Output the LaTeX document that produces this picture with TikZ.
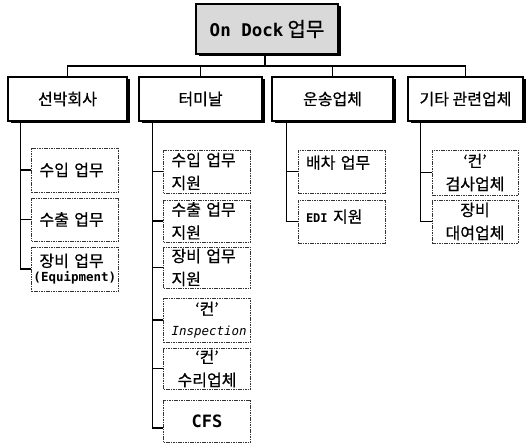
\documentclass[tikz,border=0pt]{standalone}
\usepackage{fontspec}
\setmainfont{Noto Sans CJK KR}[FakeBold=0.6]
\newfontfamily\mono{DejaVu Sans Mono}
\usetikzlibrary{shadows}
\begin{document}
\begin{tikzpicture}[x=1pt,y=-1pt,
  font=\fontsize{16}{23}\selectfont,
  topbox/.style={draw=black, line width=1.4pt, fill=gray!30, minimum width=142pt, minimum height=50pt, inner sep=0pt,
    preaction={fill=black, transform canvas={xshift=2.5pt, yshift=-2.5pt}}},
  catbox/.style={draw=black, line width=2.4pt, fill=white, minimum height=44pt, inner sep=0pt,
    preaction={fill=black, transform canvas={xshift=2.5pt, yshift=-2.5pt}}},
  itembox/.style={draw=black!80, line width=0.7pt, dash pattern=on 1.6pt off 0.8pt, fill=white, inner xsep=8pt, inner ysep=0pt},
  leftitem/.style={itembox, text width=71pt, align=left},
  centeritem/.style={itembox, text width=71pt, align=center},
  link/.style={line width=1.1pt, black}]
\useasboundingbox (0,0) rectangle (528,443);

% top
\node[topbox] (top) at (267,29) {\mbox{\mono\bfseries\fontsize{17.5}{20}\selectfont On Dock}\hspace{4pt}{\fontsize{20}{22}\selectfont 업무}};

% categories
\node[catbox, minimum width=119pt] (A) at (67.5,99) {선박회사};
\node[catbox, minimum width=123pt] (B) at (200.5,99) {터미날};
\node[catbox, minimum width=121pt] (C) at (332.5,99) {운송업체};
\node[catbox, minimum width=115pt] (D) at (465.5,99) {기타 관련업체};

\coordinate (bus) at (265,66);
\draw[link] (top.south -| bus) -- (bus);
\draw[link] (A.north) |- (bus) -| (D.north);
\draw[link] (B.north) |- (bus);
\draw[link] (C.north) |- (bus);

% A children
\node[leftitem, minimum height=44pt] (a1) at (75,170) {수입 업무};
\node[leftitem, minimum height=43pt] (a2) at (75,219.5) {수출 업무};
\node[leftitem, minimum height=44pt] (a3) at (75,269) {장비 업무\\[-8pt]\hspace*{-6pt}\mbox{\mono\bfseries\fontsize{12.5}{14}\selectfont (Equipment)}};
\foreach \c in {a1,a2,a3} \draw[link] ([xshift=14pt]A.south west) |- (\c.west);

% B children
\node[leftitem, minimum height=43pt] (b1) at (207,171.5) {수입 업무\\지원};
\node[leftitem, minimum height=42pt] (b2) at (207,221) {수출 업무\\지원};
\node[leftitem, minimum height=41pt] (b3) at (207,267.5) {장비 업무\\지원};
\node[centeritem, minimum height=44pt] (b4) at (207,320) {‘컨’\\[-2pt]\mbox{\mono\itshape\fontsize{12.5}{14}\selectfont Inspection}};
\node[centeritem, minimum height=41pt] (b5) at (207,368.5) {‘컨’\\수리업체};
\node[centeritem, minimum height=42pt] (b6) at (207,421) {\mbox{\mono\bfseries\fontsize{17}{20}\selectfont CFS}};
\foreach \c in {b1,b2,b3,b4,b5} \draw[link] ([xshift=15pt]B.south west) |- (\c.west);
\draw[link] ([xshift=15pt]B.south west) |- ([yshift=-7pt]b6.west);

% C children
\node[leftitem, minimum height=43pt] (c1) at (341.5,171.5) {배차 업무\\[-4pt]\mbox{}};
\node[leftitem, minimum height=43pt] (c2) at (341.5,221.5) {\mbox{\mono\bfseries\fontsize{12}{14}\selectfont EDI} 지원\\[-12pt]\mbox{}};
\foreach \c in {c1,c2} \draw[link] ([xshift=16pt]C.south west) |- (\c.west);

% D children
\node[centeritem, text width=70pt, minimum height=45pt] (d1) at (475,172.5) {‘컨’\\검사업체};
\node[centeritem, text width=70pt, minimum height=43pt] (d2) at (475,221.5) {장비\\대여업체};
\foreach \c in {d1,d2} \draw[link] ([xshift=14pt]D.south west) |- (\c.west);
\end{tikzpicture}
\end{document}
